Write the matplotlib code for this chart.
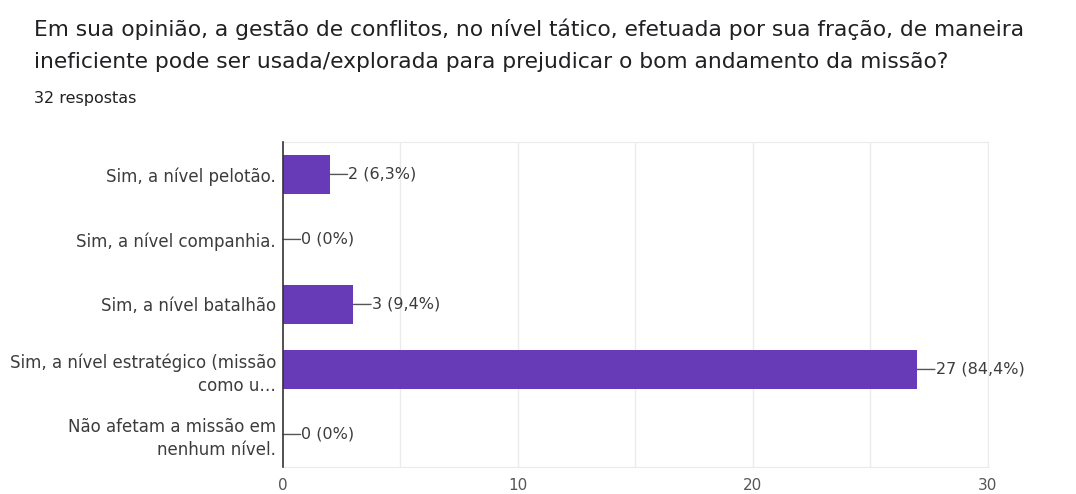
import matplotlib
matplotlib.use("Agg")
import matplotlib.pyplot as plt
import numpy as np

categories = [
    "Sim, a nível pelotão.",
    "Sim, a nível companhia.",
    "Sim, a nível batalhão",
    "Sim, a nível estratégico (missão\ncomo u…",
    "Não afetam a missão em\nnenhum nível.",
]
values = [2, 0, 3, 27, 0]
labels = ["2 (6,3%)", "0 (0%)", "3 (9,4%)", "27 (84,4%)", "0 (0%)"]
xticks = [0, 10, 20, 30]
title = ("Em sua opinião, a gestão de conflitos, no nível tático, efetuada por sua fração, de maneira\n"
         "ineficiente pode ser usada/explorada para prejudicar o bom andamento da missão?")
subtitle = "32 respostas"

plt.rcParams['font.family'] = ['DejaVu Sans']

fig = plt.figure(figsize=(10.76, 4.94), dpi=100)
ax = fig.add_axes([0.263, 0.0547, 0.655, 0.658])

y = np.arange(len(categories))
ax.barh(y, values, height=0.6, color="#673ab7", zorder=3)
ax.set_ylim(len(categories) - 0.5, -0.5)
ax.set_xlim(0, 30)
ax.set_yticks(y)
ax.set_yticklabels(categories, fontsize=12, color="#3c3c3c", linespacing=1.35)
ax.set_xticks(xticks)
ax.set_xticklabels([str(t) for t in xticks], fontsize=11, color="#555555")
ax.tick_params(axis='both', length=0)
ax.tick_params(axis='y', pad=5)
ax.tick_params(axis='x', pad=8)

for gx in range(5, 31, 5):
    ax.axvline(gx, color="#ebebeb", lw=1, zorder=1)

for s in ["top", "bottom", "right"]:
    ax.spines[s].set_color("#ebebeb")
ax.spines["left"].set_color("#333333")
ax.spines["left"].set_linewidth(1.2)
ax.spines["left"].set_zorder(4)

for yi, v, lab in zip(y, values, labels):
    ax.annotate("", xy=(v, yi), xytext=(v + 0.75, yi),
                arrowprops=dict(arrowstyle="-", color="#555555", lw=1, shrinkA=0, shrinkB=0),
                annotation_clip=False)
    ax.text(v + 0.78, yi, lab, va="center", ha="left", fontsize=11.5, color="#3c3c3c")

fig.text(0.032, 0.962, title, fontsize=15.7, color="#202124", va="top", ha="left", linespacing=1.76)
fig.text(0.032, 0.815, subtitle, fontsize=11.5, color="#202124", va="top", ha="left")

fig.savefig("out.png", dpi=100)
